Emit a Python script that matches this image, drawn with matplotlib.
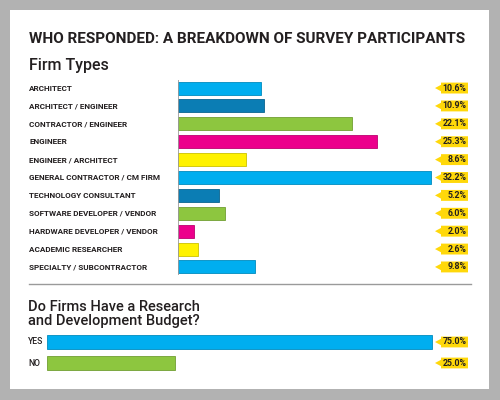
import numpy as np
import matplotlib
matplotlib.use("Agg")
import matplotlib.pyplot as plt
from matplotlib.patches import Rectangle, Polygon
from matplotlib.transforms import blended_transform_factory

# data
firm_types = ["ARCHITECT", "ARCHITECT / ENGINEER", "CONTRACTOR / ENGINEER",
              "ENGINEER", "ENGINEER / ARCHITECT", "GENERAL CONTRACTOR / CM FIRM",
              "TECHNOLOGY CONSULTANT", "SOFTWARE DEVELOPER / VENDOR",
              "HARDWARE DEVELOPER / VENDOR", "ACADEMIC RESEARCHER",
              "SPECIALTY / SUBCONTRACTOR"]
firm_pct = [10.6, 10.9, 22.1, 25.3, 8.6, 32.2, 5.2, 6.0, 2.0, 2.6, 9.8]

budget_answers = ["YES", "NO"]
budget_pct = [75.0, 25.0]

CYAN = "#00aeef"
DBLUE = "#0b7db4"
GREEN = "#8dc63f"
MAGENTA = "#ec008c"
YELLOW = "#fff200"
palette = [CYAN, DBLUE, GREEN, MAGENTA, YELLOW]
TAG = "#ffd80a"
TXT = "#231f20"
plt.rcParams['font.family'] = ['Roboto', 'DejaVu Sans']

W, H = 500, 400
fig = plt.figure(figsize=(5, 4), dpi=100, facecolor="#b2b2b2")
fig.patches.append(Rectangle((10 / W, 1 - 389 / H), 479 / W, 379 / H,
                             transform=fig.transFigure, fc="white", ec="none",
                             zorder=-10))


def px(x, y):
    return x / W, 1 - y / H


def darker(c, f=0.8):
    r, g, b = matplotlib.colors.to_rgb(c)
    return (r * f, g * f, b * f)


def add_tag(ax, yv, text, unit_px):
    tr = blended_transform_factory(fig.transFigure, ax.transData)
    hb = 5.4 / unit_px
    ht = 3.2 / unit_px
    x0, x1, x2 = 435 / W, 441 / W, 468 / W
    pts = [(x0, yv), (x1, yv - ht), (x1, yv - hb), (x2, yv - hb),
           (x2, yv + hb), (x1, yv + hb), (x1, yv + ht)]
    ax.add_patch(Polygon(pts, closed=True, transform=tr, fc=TAG, ec="none",
                         clip_on=False))
    ax.text(466.5 / W, yv, text, transform=tr, ha="right", va="center",
            fontsize=6.3, color=TXT, fontweight="bold", clip_on=False)


# titles
fig.text(*px(29, 43), "WHO RESPONDED: A BREAKDOWN OF SURVEY PARTICIPANTS",
         fontsize=11, fontweight="bold", color=TXT, va="baseline")
fig.text(*px(29, 70), "Firm Types", fontsize=11.5, fontweight="medium",
         color=TXT, va="baseline")
fig.text(*px(28, 311), "Do Firms Have a Research",
         fontsize=10.5, fontweight="medium", color=TXT, va="baseline")
fig.text(*px(28, 325), "and Development Budget?",
         fontsize=10.5, fontweight="medium", color=TXT, va="baseline")
fig.add_artist(plt.Line2D([29 / W, 471 / W], [1 - 284 / H, 1 - 284 / H],
                          color="#9a9a9a", lw=1))

# top chart
ax1 = fig.add_axes([178 / W, 1 - 275 / H, 292 / W, 195 / H])
n = len(firm_types)
ypos = np.arange(n)
cols = [palette[i % len(palette)] for i in range(n)]
ax1.barh(ypos, firm_pct, height=0.73, color=cols,
         edgecolor=[darker(c) for c in cols], linewidth=0.6)
ax1.set_xlim(0, 292 / 7.86)
ax1.set_ylim(n - 0.55, -0.45)
ax1.set_axis_off()
ax1.axvline(0, color="#9a9a9a", lw=1.2)
unit1 = 195 / n
lbl_tr1 = blended_transform_factory(fig.transFigure, ax1.transData)
for i, (name, v) in enumerate(zip(firm_types, firm_pct)):
    ax1.text(29 / W, i, name, transform=lbl_tr1, ha="left", va="center",
             fontsize=5.9, fontweight="bold", color=TXT, clip_on=False)
    add_tag(ax1, i, f"{v:.1f}%", unit1)

# bottom chart
ax2 = fig.add_axes([47 / W, 1 - 373.5 / H, 423 / W, 42 / H])
yb = np.arange(len(budget_answers))
bcols = [CYAN, GREEN]
ax2.barh(yb, budget_pct, height=0.62, color=bcols,
         edgecolor=[darker(c) for c in bcols], linewidth=0.6)
ax2.set_xlim(0, 423 / 5.13)
ax2.set_ylim(1.5, -0.5)
ax2.set_axis_off()
lbl_tr2 = blended_transform_factory(fig.transFigure, ax2.transData)
for i, (name, v) in enumerate(zip(budget_answers, budget_pct)):
    ax2.text(28 / W, i, name, transform=lbl_tr2, ha="left", va="center",
             fontsize=6.2, fontweight="medium", color=TXT, clip_on=False)
    add_tag(ax2, i, f"{v:.1f}%", 21)

fig.savefig("out.png", dpi=100, facecolor=fig.get_facecolor())
